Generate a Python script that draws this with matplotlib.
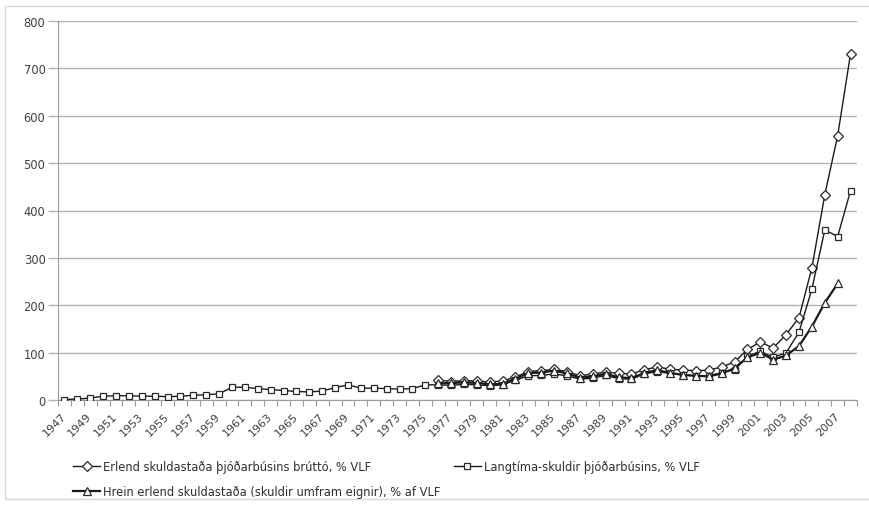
import matplotlib
matplotlib.use("Agg")
import matplotlib.pyplot as plt
from matplotlib.patches import Rectangle
from matplotlib.transforms import ScaledTranslation

plt.rcParams['font.family'] = ['DejaVu Sans']

years = list(range(1947, 2009))

# Langtíma-skuldir þjóðarbúsins (1947-2008)
langtima = [1, 2, 4, 8, 9, 9, 8, 8, 7, 8, 10, 11, 13, 27, 27, 24, 22, 20, 18,
            17, 19, 26, 32, 25, 25, 24, 23, 24, 32, 32, 31, 33, 32, 30, 32, 42,
            51, 52, 55, 51, 44, 46, 52, 45, 44, 55, 60, 56, 53, 51, 51, 58, 64,
            92, 103, 90, 100, 143, 234, 359, 345, 442]

# Erlend skuldastaða brúttó (1976-2008)
brutto_years = list(range(1976, 2009))
brutto = [42, 39, 41, 40, 38, 40, 49, 60, 62, 65, 60, 51, 55, 59, 56, 55, 64,
          70, 65, 63, 62, 63, 70, 80, 107, 122, 110, 138, 174, 279, 433, 558, 731]

# Hrein erlend skuldastaða (1976-2007)
hrein_years = list(range(1976, 2008))
hrein = [35, 36, 37, 36, 33, 34, 45, 57, 58, 62, 56, 47, 50, 55, 48, 46, 57,
         63, 57, 53, 51, 50, 56, 67, 90, 100, 85, 94, 114, 155, 205, 246]

labels = ["Erlend skuldastaða þjóðarbúsins brúttó, % VLF",
          "Langtíma-skuldir þjóðarbúsins, % VLF",
          "Hrein erlend skuldastaða (skuldir umfram eignir), % af VLF"]

fig = plt.figure(figsize=(8.7, 5.06), dpi=100)
fig.patches.append(Rectangle((5 / 870, 1 - 500 / 506), 2, (500 - 7) / 506,
                             transform=fig.transFigure, fill=False,
                             edgecolor='#d8d8d8', lw=1.0))
ax = fig.add_axes([58 / 870, (506 - 401) / 506, (857 - 58) / 870, (401 - 22) / 506])

y0 = years[0]
idx = lambda ys: [y - y0 for y in ys]

mk = dict(markerfacecolor='white', markeredgecolor='#2a2a2a', markeredgewidth=0.9)
l1, = ax.plot(idx(brutto_years), brutto, color='#1a1a1a', lw=1.0, marker='D',
              markersize=5.5, **mk, label=labels[0], zorder=3)
l2, = ax.plot(idx(years), langtima, color='#1a1a1a', lw=1.0, marker='s',
              markersize=5.0, **mk, label=labels[1], zorder=4)
l3, = ax.plot(idx(hrein_years), hrein, color='#1a1a1a', lw=1.6, marker='^',
              markersize=6.0, **mk, label=labels[2], zorder=5)

ax.set_xlim(-0.5, len(years) - 0.5)
ax.set_ylim(0, 800)
ax.set_yticks(range(0, 801, 100))
ax.yaxis.grid(True, color='#bab1ab', lw=1.0)
ax.set_axisbelow(True)

ax.set_xticks([i - 0.5 for i in range(len(years) + 1)])
ax.set_xticklabels([])
lab_pos = list(range(0, len(years), 2))
ax.set_xticks(lab_pos, minor=True)
ax.set_xticklabels([str(years[i]) for i in lab_pos], minor=True, rotation=45,
                   ha='right', va='center', rotation_mode='anchor',
                   fontsize=8.0, color='#404040')
shift = ScaledTranslation(-4 / 72, 0, fig.dpi_scale_trans)
for t in ax.get_xticklabels(minor=True):
    t.set_transform(t.get_transform() + shift)
ax.tick_params(axis='x', which='major', length=4, color='#9a9a9a', width=0.8)
ax.tick_params(axis='x', which='minor', length=0, pad=10)
ax.tick_params(axis='y', length=7, color='#bab1ab', width=1.0, labelsize=8.3,
               labelcolor='#404040', pad=2)

for s in ['top', 'right']:
    ax.spines[s].set_visible(False)
ax.spines['left'].set_color('#9a9a9a')
ax.spines['bottom'].set_color('#9a9a9a')

leg = fig.legend(handles=[l1, l3, l2], labels=[labels[0], labels[2], labels[1]],
                 ncol=2, loc='upper left', bbox_to_anchor=(67 / 870, 1 - 455 / 506),
                 frameon=False, fontsize=8.3, handlelength=2.4, handletextpad=0.26,
                 columnspacing=1.1, labelspacing=1.05, borderpad=0,
                 labelcolor='#303030')

fig.savefig("out.png", dpi=100, facecolor='white')
